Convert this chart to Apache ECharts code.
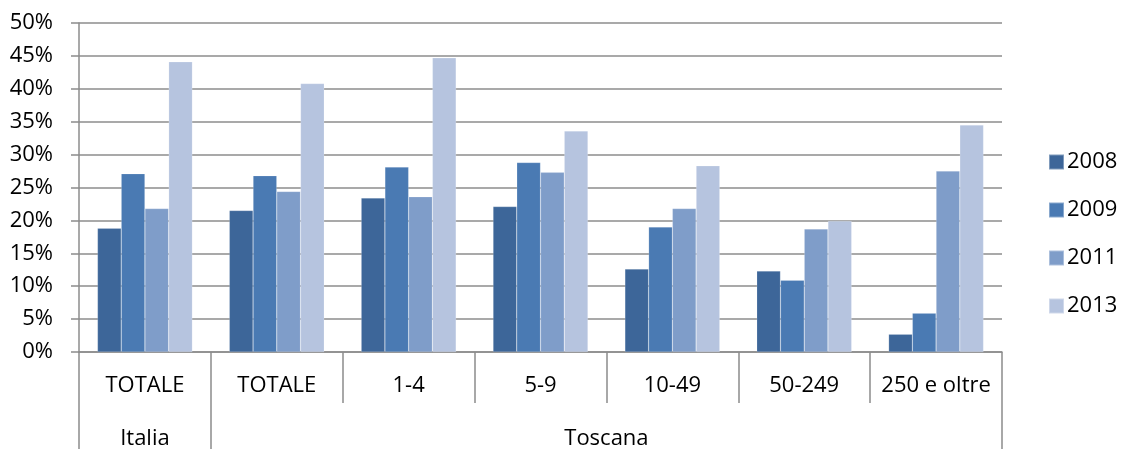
<!DOCTYPE html>
<html>
<head>
<meta charset="utf-8">
<script src="https://cdn.jsdelivr.net/npm/echarts@6/dist/echarts.min.js"></script>
<style>
html,body{margin:0;padding:0;background:#fff;}
#chart{width:1126px;height:450px;}
</style>
</head>
<body>
<div id="chart"></div>
<script>
// Data
var categories = ['TOTALE', 'TOTALE', '1-4', '5-9', '10-49', '50-249', '250 e oltre'];
var groupNames = ['Italia', 'Toscana'];
var groupSpans = [1, 6];
var seriesNames = ['2008', '2009', '2011', '2013'];
var v2008 = [18.8, 21.5, 23.4, 22.1, 12.6, 12.3, 2.7];
var v2009 = [27.1, 26.8, 28.1, 28.8, 19.0, 10.9, 5.9];
var v2011 = [21.8, 24.4, 23.6, 27.3, 21.8, 18.7, 27.5];
var v2013 = [44.1, 40.8, 44.7, 33.6, 28.3, 19.9, 34.5];
var yTicks = [0, 5, 10, 15, 20, 25, 30, 35, 40, 45, 50];

var colors = ['#3D6699', '#4A7AB3', '#7F9DC9', '#B6C4DF'];
var values = [v2008, v2009, v2011, v2013];

// group boundaries & centers derived from spans
var bounds = [0];
var centers = [];
groupSpans.forEach(function (s, i) {
  var start = bounds[bounds.length - 1];
  centers.push(start + s / 2);
  bounds.push(start + s);
});

var FONT = '"Open Sans", sans-serif';
var axisGray = '#8c8c8c';

var chart = echarts.init(document.getElementById('chart'), null, {renderer: 'canvas'});
chart.setOption({
  animation: false,
  textStyle: {fontFamily: FONT},
  color: colors,
  legend: {
    orient: 'vertical',
    left: 1043,
    top: 146,
    itemWidth: 15,
    itemHeight: 15,
    itemGap: 26,
    icon: 'rect',
    textStyle: {fontFamily: FONT, fontSize: 22, color: '#000', padding: [0, 0, 0, -2]},
    data: seriesNames
  },
  grid: {left: 79, right: 124, top: 23, bottom: 96, containLabel: false},
  xAxis: [
    {
      type: 'category',
      data: categories,
      position: 'bottom',
      axisLine: {show: true, lineStyle: {color: axisGray, width: 1.5}},
      axisTick: {show: true, alignWithLabel: false, interval: 0, length: 51, lineStyle: {color: axisGray, width: 1.5}},
      axisLabel: {interval: 0, fontFamily: FONT, fontSize: 22, color: '#000', margin: 23},
      splitLine: {show: false}
    },
    {
      type: 'value',
      min: 0,
      max: categories.length,
      position: 'bottom',
      offset: 51,
      axisLine: {show: false},
      axisTick: {show: true, length: 46, customValues: bounds, lineStyle: {color: axisGray, width: 1.5}},
      axisLabel: {
        show: true,
        customValues: centers,
        fontFamily: FONT, fontSize: 22, color: '#000', margin: 25,
        formatter: function (val) {
          var idx = centers.indexOf(val);
          return idx >= 0 ? groupNames[idx] : '';
        }
      },
      splitLine: {show: false}
    }
  ],
  yAxis: {
    type: 'value',
    min: 0,
    max: 50,
    interval: 5,
    axisLine: {show: true, lineStyle: {color: axisGray, width: 1.5}},
    axisTick: {show: true, length: 8, lineStyle: {color: axisGray, width: 1.5}},
    axisLabel: {fontFamily: FONT, fontSize: 22, color: '#000', margin: 26, formatter: function (v) { return v + '%'; }},
    splitLine: {show: true, lineStyle: {color: axisGray, width: 1.5}}
  },
  series: seriesNames.map(function (n, i) {
    return {
      name: n,
      type: 'bar',
      xAxisIndex: 0,
      data: values[i],
      barGap: '0%',
      barCategoryGap: '28%',
      itemStyle: {color: colors[i], borderColor: 'rgba(255,255,255,0.35)', borderWidth: 0.5}
    };
  })
});
</script>
</body>
</html>
